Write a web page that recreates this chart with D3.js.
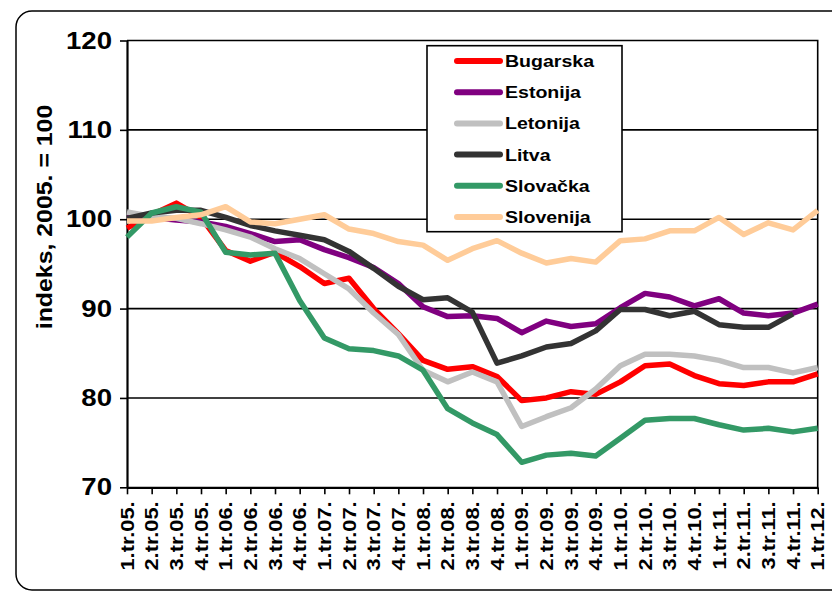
<!DOCTYPE html>
<html>
<head>
<meta charset="utf-8">
<script src="https://cdn.jsdelivr.net/npm/d3@7"></script>
<style>
  body { margin: 0; background: #fff; }
  text { font-family: "Liberation Sans", Arial, sans-serif; font-weight: bold; fill: #000; }
</style>
</head>
<body>
<svg id="chart" width="832" height="595"></svg>
<script>
// Quarters on the x axis.
var quarters = ["1.tr.05.", "2.tr.05.", "3.tr.05.", "4.tr.05.",
  "1.tr.06.", "2.tr.06.", "3.tr.06.", "4.tr.06.",
  "1.tr.07.", "2.tr.07.", "3.tr.07.", "4.tr.07.",
  "1.tr.08.", "2.tr.08.", "3.tr.08.", "4.tr.08.",
  "1.tr.09.", "2.tr.09.", "3.tr.09.", "4.tr.09.",
  "1.tr.10.", "2.tr.10.", "3.tr.10.", "4.tr.10.",
  "1.tr.11.", "2.tr.11.", "3.tr.11.", "4.tr.11.",
  "1.tr.12."];

// Index values, 2005. = 100.
var bugarska = [99.0, 100.5, 101.8, 100.2, 96.5, 95.3, 96.3, 94.7, 92.8, 93.4, 90.0, 87.2, 84.2, 83.2, 83.5, 82.4,
  79.7, 80.0, 80.7, 80.4, 81.8, 83.6, 83.8, 82.5, 81.6, 81.4, 81.8, 81.8, 82.7];
var estonija = [100.4, 100.2, 99.9, 99.7, 99.2, 98.4, 97.5, 97.7, 96.6, 95.7, 94.6, 92.8, 90.2, 89.1, 89.2, 88.9,
  87.3, 88.6, 88.0, 88.3, 90.1, 91.7, 91.3, 90.3, 91.1, 89.5, 89.2, 89.5, 90.5];
var letonija = [100.8, 100.3, 100.1, 99.5, 98.8, 98.0, 96.7, 95.6, 93.9, 92.2, 89.5, 87.1, 83.1, 81.8, 82.9, 81.8,
  76.8, 77.9, 78.9, 81.0, 83.6, 84.9, 84.9, 84.7, 84.2, 83.4, 83.4, 82.8, 83.4];
var litva = [100.1, 100.7, 101.0, 101.0, 100.2, 99.3, 98.7, 98.2, 97.7, 96.4, 94.5, 92.5, 91.0, 91.2, 89.6, 83.9,
  84.7, 85.7, 86.1, 87.5, 89.9, 89.9, 89.2, 89.7, 88.2, 87.9, 87.9, 89.4, null];
var slovacka = [98.0, 100.7, 101.4, 100.8, 96.3, 96.0, 96.2, 90.9, 86.7, 85.5, 85.3, 84.7, 83.1, 78.8, 77.2, 75.9,
  72.8, 73.6, 73.8, 73.5, 75.5, 77.5, 77.7, 77.7, 77.0, 76.4, 76.6, 76.2, 76.6];
var slovenija = [99.8, 99.8, 100.2, 100.5, 101.4, 99.7, 99.5, 100.0, 100.5, 98.9, 98.4, 97.5, 97.1, 95.4, 96.7, 97.6,
  96.2, 95.1, 95.6, 95.2, 97.6, 97.8, 98.7, 98.7, 100.2, 98.3, 99.6, 98.8, 101.0];

var seriesNames = ["Bugarska", "Estonija", "Letonija", "Litva", "Slovačka", "Slovenija"];
var seriesValues = [bugarska, estonija, letonija, litva, slovacka, slovenija];
var seriesColors = ["#ff0000", "#800080", "#c0c0c0", "#333333", "#339966", "#ffcc99"];

var yTicks = [70, 80, 90, 100, 110, 120];
var yTitle = "indeks, 2005. = 100";

// Plot area edges.
var plot = { left: 127, right: 817.7, top: 40.5, bottom: 487.3 };

var svg = d3.select("#chart");

// Rounded outer frame (runs off the right edge like the original).
svg.append("rect")
    .attr("x", 16).attr("y", 11)
    .attr("width", 840).attr("height", 579)
    .attr("rx", 16).attr("ry", 16)
    .style("fill", "#fff")
    .style("stroke", "#000")
    .style("stroke-width", 1.5);

var x = d3.scalePoint()
    .domain(quarters)
    .range([plot.left, plot.right]);

var y = d3.scaleLinear()
    .domain([70, 120])
    .range([plot.bottom, plot.top]);

// Horizontal gridlines.
svg.append("g").selectAll("line")
    .data(yTicks.slice(1, -1))
    .enter().append("line")
    .attr("x1", plot.left).attr("x2", plot.right)
    .attr("y1", function(d) { return y(d); })
    .attr("y2", function(d) { return y(d); })
    .style("stroke", "#000")
    .style("stroke-width", 1.6);

// Plot area border (top and right).
svg.append("path")
    .attr("d", "M" + plot.left + "," + y(120) + "H" + plot.right + "V" + y(70))
    .style("fill", "none")
    .style("stroke", "#000")
    .style("stroke-width", 1.6);

// Y axis.
var yAxis = svg.append("g")
    .attr("transform", "translate(" + plot.left + ",0)")
    .call(d3.axisLeft(y).tickValues(yTicks).tickSize(7).tickSizeOuter(0).tickPadding(8));
yAxis.select(".domain").style("stroke", "#000").style("stroke-width", 2.2);
yAxis.selectAll(".tick line").style("stroke", "#000").style("stroke-width", 1.6);
yAxis.selectAll(".tick text")
    .style("font-size", "24px")
    .attr("x", null)
    .attr("transform", "translate(-15,0) scale(1.15,1)");

// X axis.
var xAxis = svg.append("g")
    .attr("transform", "translate(0," + plot.bottom + ")")
    .call(d3.axisBottom(x).tickSize(7).tickSizeOuter(0));
xAxis.select(".domain").style("stroke", "#000").style("stroke-width", 2.2);
xAxis.selectAll(".tick line").style("stroke", "#000").style("stroke-width", 1.6);
xAxis.selectAll(".tick text")
    .style("font-size", "17.5px")
    .attr("y", null)
    .attr("dy", "0.35em")
    .attr("text-anchor", "end")
    .attr("transform", "translate(0,14) rotate(-90) scale(1.25,1)");

// Axis title.
svg.append("text")
    .attr("transform", "translate(44,217) rotate(-90) scale(1.13,1)")
    .attr("text-anchor", "middle")
    .attr("dy", "0.35em")
    .style("font-size", "22px")
    .text(yTitle);

// Series lines.
var line = d3.line()
    .defined(function(d) { return d != null; })
    .x(function(d, i) { return x(quarters[i]); })
    .y(function(d) { return y(d); });

svg.append("g").selectAll("path")
    .data(seriesValues)
    .enter().append("path")
    .attr("d", line)
    .style("fill", "none")
    .style("stroke", function(d, i) { return seriesColors[i]; })
    .style("stroke-width", 5.5)
    .style("stroke-linejoin", "round");

// Legend.
var lg = { x: 427, y: 45.7, w: 195, h: 186, row0: 61, step: 31.2 };
var legend = svg.append("g");
legend.append("rect")
    .attr("x", lg.x).attr("y", lg.y)
    .attr("width", lg.w).attr("height", lg.h)
    .style("fill", "#fff")
    .style("stroke", "#000")
    .style("stroke-width", 1.6);

var item = legend.selectAll("g.item")
    .data(seriesNames)
    .enter().append("g")
    .attr("class", "item")
    .attr("transform", function(d, i) { return "translate(0," + (lg.row0 + i * lg.step) + ")"; });

item.append("line")
    .attr("x1", 457).attr("x2", 500)
    .style("stroke", function(d, i) { return seriesColors[i]; })
    .style("stroke-width", 6)
    .style("stroke-linecap", "round");

item.append("text")
    .attr("transform", "translate(505,0) scale(1.15,1)")
    .attr("dy", "0.35em")
    .style("font-size", "17px")
    .text(function(d) { return d; });
</script>
</body>
</html>
